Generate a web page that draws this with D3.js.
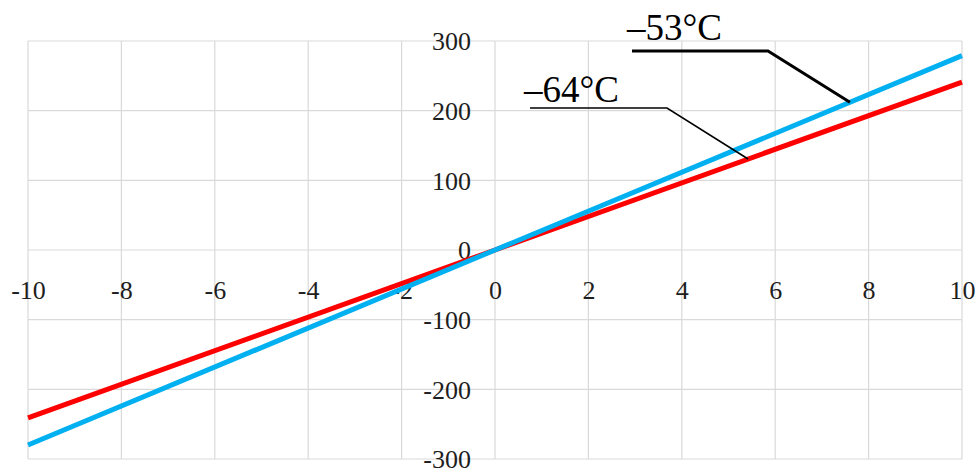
<!DOCTYPE html>
<html>
<head>
<meta charset="utf-8">
<script src="https://cdn.jsdelivr.net/npm/d3@7"></script>
<style>
  html, body { margin: 0; padding: 0; background: #fff; }
  svg { display: block; }
  text { font-family: "Liberation Serif", "Times New Roman", serif; }
</style>
</head>
<body>
<svg id="chart" width="979" height="468"></svg>
<script>
// Linear response at two temperatures
const xValues = [-10, 0, 10];
const series53 = [-280, 0, 279];   // –53°C
const series64 = [-241, 0, 241];   // –64°C
const xTicks = [-10, -8, -6, -4, -2, 0, 2, 4, 6, 8, 10];
const yTicks = [-300, -200, -100, 0, 100, 200, 300];
const seriesNames = ["–53°C", "–64°C"];

const svg = d3.select("#chart");
const x = d3.scaleLinear().domain([-10, 10]).range([28, 962]);
const y = d3.scaleLinear().domain([-300, 300]).range([459, 41]);

// plain hyphen-minus labels
const fmt = d => String(d);

// gridlines
const grid = svg.append("g").attr("stroke", "#d9d9d9").attr("stroke-width", 1.2);
grid.selectAll("line.v").data(xTicks).join("line")
  .attr("x1", d => x(d)).attr("x2", d => x(d))
  .attr("y1", y(300)).attr("y2", y(-300));
grid.selectAll("line.h").data(yTicks).join("line")
  .attr("x1", x(-10)).attr("x2", x(10))
  .attr("y1", d => y(d)).attr("y2", d => y(d));

// x-axis labels, set just below the zero line
const xAxis = d3.axisBottom(x).tickValues(xTicks).tickSize(0).tickPadding(0).tickFormat(fmt);
const gx = svg.append("g").attr("transform", `translate(0,${y(0)})`).call(xAxis);
gx.select(".domain").remove();
gx.selectAll("text").attr("y", 49).attr("dy", 0)
  .attr("font-size", 26).attr("fill", "#1e1e1e")
  .attr("font-family", "Liberation Serif, serif");

// y-axis labels, left of the zero line
const yAxis = d3.axisLeft(y).tickValues(yTicks).tickSize(0).tickPadding(0).tickFormat(fmt);
const gy = svg.append("g").attr("transform", `translate(${x(0)},0)`).call(yAxis);
gy.select(".domain").remove();
gy.selectAll("text").attr("x", -24).attr("dy", "0.34em")
  .attr("font-size", 26).attr("fill", "#1e1e1e")
  .attr("font-family", "Liberation Serif, serif");

// series lines
const line = d3.line().x((d, i) => x(xValues[i])).y(d => y(d));
svg.append("path").datum(series64).attr("d", line)
  .attr("fill", "none").attr("stroke", "#ff0000").attr("stroke-width", 5);
svg.append("path").datum(series53).attr("d", line)
  .attr("fill", "none").attr("stroke", "#00b0f0").attr("stroke-width", 5);

// callouts: label, underline leader, pointer onto the curve
function valueAt(series, xv) {
  return d3.scaleLinear().domain(xValues).range(series)(xv);
}
function callout(name, series, xv, textX, baseY, lineStartX, elbowX, lineY, width) {
  const px = x(xv), py = y(valueAt(series, xv));
  svg.append("path")
    .attr("d", `M${lineStartX},${lineY}H${elbowX}L${px},${py}`)
    .attr("fill", "none").attr("stroke", "#000").attr("stroke-width", width);
  svg.append("text").attr("x", textX).attr("y", baseY)
    .attr("font-size", 37).attr("fill", "#000").text(name);
}
callout(seriesNames[0], series53, 7.6, 627, 40, 632, 768, 51, 3);
callout(seriesNames[1], series64, 5.42, 524, 102, 530, 667, 108, 1.6);
</script>
</body>
</html>
